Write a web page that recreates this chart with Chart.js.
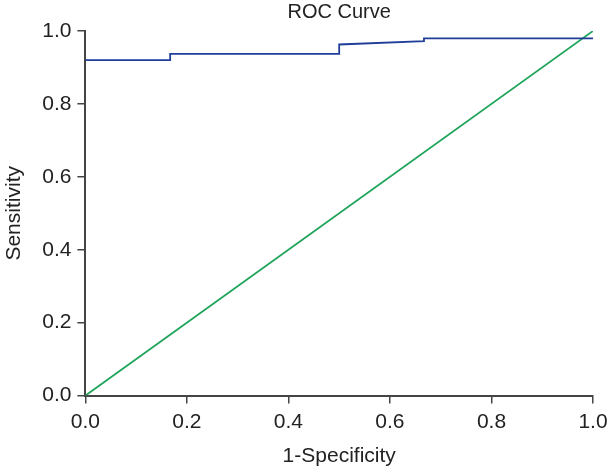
<!DOCTYPE html>
<html>
<head>
<meta charset="utf-8">
<script src="https://cdn.jsdelivr.net/npm/chart.js@4"></script>
<style>
  html, body { margin: 0; padding: 0; background: #fff; }
  #wrap { width: 608px; height: 469px; }
</style>
</head>
<body>
<div id="wrap"><canvas id="roc"></canvas></div>
<script>
// ROC曲線のデータ
const rocX = [0, 0.167, 0.167, 0.5, 0.5, 0.667, 0.667, 1.0];
const rocY = [0.92, 0.92, 0.937, 0.937, 0.963, 0.972, 0.98, 0.98];

// 参照線 (対角線)
const refX = [0, 1];
const refY = [0, 1];

const tickValues = [0, 0.2, 0.4, 0.6, 0.8, 1.0];
const chartTitle = 'ROC Curve';

function toPoints(xs, ys) {
  return xs.map((x, i) => ({ x: x, y: ys[i] }));
}

const fontFamily = "'Liberation Sans', Arial, sans-serif";
const axisColor = '#444';
const textColor = '#222';

function axisOptions(titleText, titlePad) {
  return {
    type: 'linear',
    min: 0,
    max: 1,
    afterBuildTicks: (axis) => {
      axis.ticks = tickValues.map(v => ({ value: v }));
    },
    ticks: {
      color: textColor,
      font: { family: fontFamily, size: 21 },
      padding: 6,
      callback: (v) => v.toFixed(1),
    },
    grid: {
      drawOnChartArea: false,
      drawTicks: true,
      tickLength: 8,
      color: axisColor,
      lineWidth: 1.5,
    },
    border: { display: true, color: axisColor, width: 2 },
    title: {
      display: true,
      text: titleText,
      color: textColor,
      font: { family: fontFamily, size: 21 },
      padding: titlePad,
    },
  };
}

// タイトルをプロット領域の中央に描画
const centerTitle = {
  id: 'centerTitle',
  afterDraw(chart) {
    const c = chart.ctx;
    const area = chart.chartArea;
    c.save();
    c.fillStyle = textColor;
    c.font = `20px ${fontFamily}`;
    c.textAlign = 'center';
    c.textBaseline = 'middle';
    c.fillText(chartTitle, (area.left + area.right) / 2, 12);
    c.restore();
  }
};

const xAxis = axisOptions('1-Specificity', { top: 3, bottom: 0 });
// 右端ラベルのはみ出し分を詰める
xAxis.afterFit = (scale) => { scale.paddingRight = 15; };

const ctx = document.getElementById('roc').getContext('2d');
new Chart(ctx, {
  type: 'scatter',
  data: {
    datasets: [
      {
        label: 'ROC',
        data: toPoints(rocX, rocY),
        showLine: true,
        borderColor: '#1f3d99',
        borderWidth: 1.8,
        pointRadius: 0,
        tension: 0,
      },
      {
        label: 'Reference',
        data: toPoints(refX, refY),
        showLine: true,
        borderColor: '#1fa45a',
        borderWidth: 1.8,
        pointRadius: 0,
        tension: 0,
      },
    ]
  },
  options: {
    responsive: true,
    maintainAspectRatio: false,
    animation: false,
    layout: { padding: { top: 31, right: 15, bottom: 0, left: 2 } },
    plugins: {
      legend: { display: false },
      tooltip: { enabled: false },
      title: { display: false },
    },
    scales: {
      x: xAxis,
      y: axisOptions('Sensitivity', { top: 0, bottom: 9 }),
    }
  },
  plugins: [centerTitle],
});
</script>
</body>
</html>
